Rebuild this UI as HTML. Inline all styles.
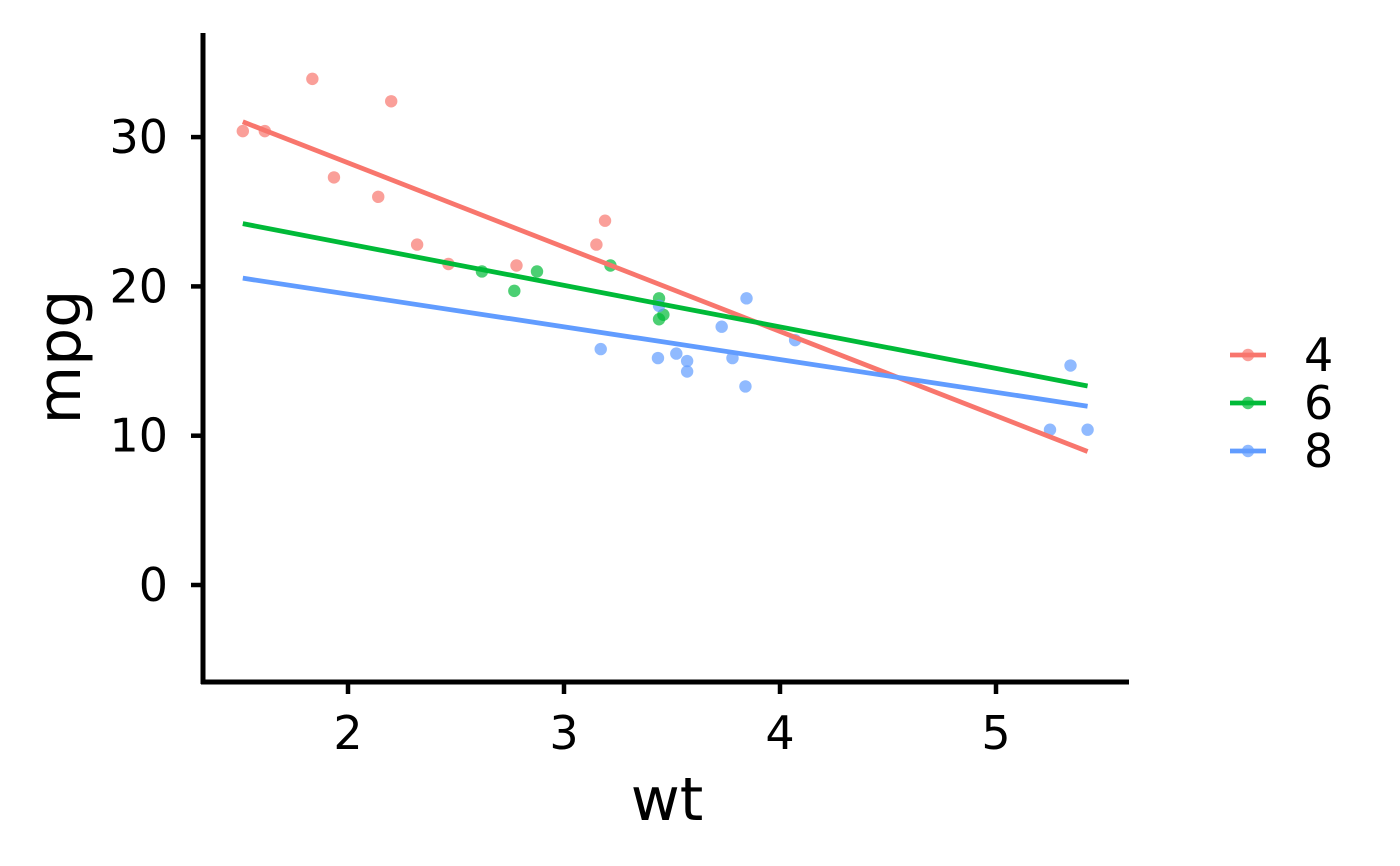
<!DOCTYPE html>
<html><head><meta charset="utf-8"><style>
body{margin:0;background:#fff}
svg{display:block;font-family:"DejaVu Sans","Liberation Sans",sans-serif}
</style></head><body>
<svg id="chart" width="1400" height="866"></svg>
<script>
const cyl4Wt=[2.32,3.19,3.15,2.2,1.615,1.835,2.465,1.935,2.14,1.513,2.78];
const cyl4Mpg=[22.8,24.4,22.8,32.4,30.4,33.9,21.5,27.3,26,30.4,21.4];
const cyl6Wt=[2.62,2.875,3.215,3.46,3.44,3.44,2.77];
const cyl6Mpg=[21,21,21.4,18.1,19.2,17.8,19.7];
const cyl8Wt=[3.44,3.57,4.07,3.73,3.78,5.25,5.424,5.345,3.52,3.435,3.84,3.845,3.17,3.57];
const cyl8Mpg=[18.7,14.3,16.4,17.3,15.2,10.4,10.4,14.7,15.5,15.2,13.3,19.2,15.8,15.0];
const groupLabels=["4","6","8"];
const xTicks=[2,3,4,5];
const yTicks=[0,10,20,30];

const NS="http://www.w3.org/2000/svg";
const svg=document.getElementById('chart');
const sx=v=>348+(v-2)*216;
const sy=v=>585-v*14.93;
function mk(tag,attrs,parent){const e=document.createElementNS(NS,tag);for(const k in attrs)e.setAttribute(k,attrs[k]);(parent||svg).appendChild(e);return e;}
const colors=["#F8766D","#00BA38","#619CFF"];
const groups=[[cyl4Wt,cyl4Mpg],[cyl6Wt,cyl6Mpg],[cyl8Wt,cyl8Mpg]];
const allWt=[].concat(cyl4Wt,cyl6Wt,cyl8Wt);
const xmin=Math.min(...allWt),xmax=Math.max(...allWt);

groups.forEach((g,i)=>{
  g[0].forEach((w,j)=>{
    const c=mk('circle',{cx:sx(w),cy:sy(g[1][j]),r:6.2,fill:colors[i],'fill-opacity':0.7});
    
    
  });
});
groups.forEach((g,i)=>{
  const n=g[0].length,mx=g[0].reduce((a,b)=>a+b)/n,my=g[1].reduce((a,b)=>a+b)/n;
  let sxy=0,sxx=0;g[0].forEach((x,j)=>{sxy+=(x-mx)*(g[1][j]-my);sxx+=(x-mx)*(x-mx);});
  const b=sxy/sxx,a=my-b*mx;
  const l=mk('line',{x1:sx(xmin),y1:sy(a+b*xmin),x2:sx(xmax),y2:sy(a+b*xmax),stroke:colors[i],'stroke-width':4.8});
  
  
});
const ya=mk('line',{x1:203,y1:33,x2:203,y2:684,stroke:'#000','stroke-width':5});

const xa=mk('line',{x1:201,y1:682,x2:1129,y2:682,stroke:'#000','stroke-width':5});

xTicks.forEach(t=>{
  mk('line',{x1:sx(t),y1:682,x2:sx(t),y2:694,stroke:'#000','stroke-width':4.5});
  const tx=mk('text',{x:sx(t),y:749,'text-anchor':'middle','font-size':46});tx.textContent=t;
  
});
yTicks.forEach(t=>{
  mk('line',{x1:191,y1:sy(t),x2:203,y2:sy(t),stroke:'#000','stroke-width':4.5});
  const tx=mk('text',{x:168,y:sy(t)+16,'text-anchor':'end','font-size':46});tx.textContent=t;
  
});
const xt=mk('text',{x:667,y:820,'text-anchor':'middle','font-size':60});xt.textContent='wt';

const yt=mk('text',{x:80,y:357,'text-anchor':'middle','font-size':60,transform:'rotate(-90 80 357)'});yt.textContent='mpg';

groupLabels.forEach((lab,i)=>{
  const y=355+i*48;
  const g=mk('g',{});
  
  mk('line',{x1:1230,y1:y,x2:1266,y2:y,stroke:colors[i],'stroke-width':4.8},g);
  mk('circle',{cx:1248,cy:y,r:6.2,fill:colors[i],'fill-opacity':0.7},g);
  const t=mk('text',{x:1304,y:y+16,'font-size':46},g);t.textContent=lab;
});
</script>
</body></html>
